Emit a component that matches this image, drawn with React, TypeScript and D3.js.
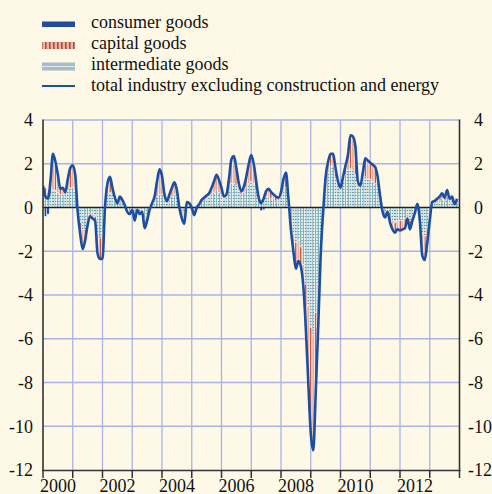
import React from "react";
import * as d3 from "d3";

// Monthly data, Jan 2000 – Dec 2013 (percentage points)
const total = [
  1.0, 0.5, 0.4, 1.2, 2.45, 2.1, 1.5, 0.85, 0.9, 0.7, 1.3, 1.8,
  1.93, 1.5, -0.2, -1.2, -1.9, -1.5, -0.8, -0.4, -0.5, -0.6, -2.1, -2.35,
  -2.35, 0.0, 1.1, 1.4, 0.9, 0.45, 0.2, 0.5, 0.35, 0.1, -0.2, -0.3,
  -0.1, -0.6, -0.1, -0.3, -0.2, -0.95, -0.6, -0.1, 0.2, 0.5, 1.2, 1.75,
  1.45, 0.6, 0.3, 0.6, 0.9, 1.15, 0.8, 0.0, -0.5, -0.75, 0.25, 0.2,
  0.0, -0.35, 0.0, 0.15, 0.35, 0.45, 0.55, 0.65, 0.9, 1.2, 1.5, 1.25,
  0.9, 0.5, 0.6, 1.3, 2.2, 2.35, 1.8, 1.1, 0.75, 0.95, 1.4, 2.0,
  2.4, 2.0, 1.2, 0.45, 0.2, 0.4, 0.75, 0.85, 0.7, 0.6, 0.5, 0.45,
  0.7, 1.3, 1.6, 0.4, -1.0, -2.0, -2.8, -2.45, -2.7, -3.6, -5.5, -8.0,
  -10.3, -11.1, -8.5, -5.5, -2.2, -0.2, 1.4, 2.1, 2.45, 2.45, 1.8, 1.2,
  0.9, 1.4, 1.9, 2.4, 3.3, 3.25, 2.8, 1.2, 1.0, 1.6, 2.25, 2.15,
  2.05, 1.95, 1.85, 1.4, 0.5, -0.2, -0.45, -0.2, -0.7, -1.0, -1.15, -1.0,
  -1.05, -1.0, -0.95, -0.5, -1.0, -0.6, -0.25, 0.17, -0.6, -2.2, -2.4, -1.6,
  -0.6, 0.25, 0.3, 0.4, 0.5, 0.65, 0.45, 0.8, 0.4, 0.5, 0.15, 0.4,
];

const intermediate = [
  0.6, 0.5, 0.4, 0.6, 0.8, 0.8, 0.7, 0.6, 0.6, 0.6, 0.8, 0.9,
  0.9, 0.8, -0.2, -0.7, -1.0, -1.0, -0.6, -0.3, -0.3, -0.4, -1.2, -1.4,
  -1.2, 0.0, 0.6, 0.7, 0.6, 0.3, 0.2, 0.3, 0.3, 0.1, -0.1, -0.2,
  -0.1, -0.3, -0.1, -0.2, -0.1, -0.5, -0.4, -0.1, 0.2, 0.3, 0.5, 0.6,
  0.6, 0.4, 0.2, 0.4, 0.5, 0.6, 0.5, 0.1, -0.2, -0.3, 0.2, 0.2,
  0.1, -0.1, 0.1, 0.2, 0.3, 0.4, 0.4, 0.5, 0.6, 0.7, 0.8, 0.7,
  0.6, 0.4, 0.5, 0.8, 1.1, 1.1, 1.0, 0.8, 0.6, 0.7, 0.9, 1.1,
  1.2, 1.1, 0.8, 0.4, 0.2, 0.3, 0.5, 0.5, 0.4, 0.4, 0.3, 0.3,
  0.5, 0.8, 0.9, 0.3, -0.6, -1.2, -1.6, -1.5, -1.8, -2.6, -3.5, -4.5,
  -5.5, -5.8, -4.8, -3.5, -1.5, -0.2, 1.0, 1.6, 1.9, 1.9, 1.4, 1.0,
  0.85, 1.2, 1.5, 1.7, 1.8, 1.7, 1.5, 0.9, 0.9, 1.2, 1.4, 1.3,
  1.3, 1.2, 1.1, 0.9, 0.4, -0.1, -0.3, -0.1, -0.5, -0.6, -0.7, -0.6,
  -0.6, -0.6, -0.5, -0.3, -0.6, -0.4, -0.1, 0.1, -0.4, -1.2, -1.3, -0.9,
  -0.4, 0.2, 0.2, 0.3, 0.3, 0.4, 0.3, 0.5, 0.3, 0.3, 0.1, 0.3,
];

const capital = [
  0.4, 0.4, 0.3, 0.6, 1.65, 1.3, 0.8, 0.25, 0.3, 0.1, 0.5, 0.9,
  1.03, 0.7, 0.0, -0.5, -0.9, -0.5, -0.2, -0.1, -0.2, -0.2, -0.9, -0.95,
  -1.15, 0.0, 0.5, 0.7, 0.3, 0.15, 0.0, 0.2, 0.05, 0.0, -0.1, -0.1,
  0.0, -0.3, 0.0, -0.1, -0.1, -0.45, -0.2, 0.0, 0.0, 0.2, 0.7, 1.15,
  0.85, 0.2, 0.1, 0.2, 0.4, 0.55, 0.3, -0.1, -0.3, -0.45, 0.05, 0.0,
  0.0, -0.1, -0.1, -0.05, 0.05, 0.05, 0.15, 0.15, 0.3, 0.5, 0.7, 0.55,
  0.3, 0.1, 0.1, 0.5, 1.1, 1.25, 0.8, 0.3, 0.15, 0.25, 0.5, 0.9,
  1.2, 0.9, 0.4, 0.05, 0.15, 0.2, 0.25, 0.35, 0.3, 0.2, 0.2, 0.15,
  0.2, 0.5, 0.7, 0.1, -0.4, -0.8, -1.2, -0.95, -0.9, -1.0, -2.0, -3.5,
  -4.8, -5.3, -3.7, -2.0, -0.7, 0.0, 0.4, 0.5, 0.55, 0.55, 0.4, 0.2,
  0.05, 0.2, 0.4, 0.7, 1.5, 1.55, 1.3, 0.3, 0.1, 0.4, 0.85, 0.85,
  0.75, 0.75, 0.75, 0.5, 0.1, -0.1, -0.15, -0.1, -0.2, -0.4, -0.45, -0.4,
  -0.45, -0.4, -0.45, -0.2, -0.4, -0.2, -0.15, 0.07, -0.2, -1.0, -1.1, -0.7,
  -0.2, 0.05, 0.1, 0.1, 0.2, 0.25, 0.15, 0.3, 0.1, 0.2, 0.05, 0.1,
];

const consumerNonZero: [number, number][] = [
  [1, -0.4], [2, -0.3], [60, -0.1], [61, -0.15], [88, -0.15], [89, -0.1],
];

const yTicks = [4, 2, 0, -2, -4, -6, -8, -10, -12];
const yearTicks = d3.range(2000, 2015);
const yearLabels = [2000, 2002, 2004, 2006, 2008, 2010, 2012];

const legendItems = [
  "consumer goods",
  "capital goods",
  "intermediate goods",
  "total industry excluding construction and energy",
];

const W = 492;
const H = 494;
const BG = "#fef9e7";
const GRID = "#aab3e3";
const LINE = "#1b4fa3";
const FONT = "'Liberation Serif', 'Times New Roman', serif";

export default function App() {
  const x = d3.scaleLinear().domain([2000, 2014]).range([43, 459.5]);
  const y = d3.scaleLinear().domain([-12, 4]).range([470, 120]);
  const step = x(2000 + 1 / 12) - x(2000);

  const consumer = total.map(() => 0);
  consumerNonZero.forEach(([i, v]) => (consumer[i] = v));

  const rows = total.map((t, i) => ({
    t: 2000 + i / 12,
    intermediate: intermediate[i],
    capital: capital[i],
    consumer: consumer[i],
    total: t,
  }));

  const keys = ["intermediate", "capital", "consumer"];
  const series = d3
    .stack<any>()
    .keys(keys)
    .offset(d3.stackOffsetDiverging)(rows);

  const fills: Record<string, string> = {
    intermediate: "url(#patInter)",
    capital: "url(#patCap)",
    consumer: "#1f4e9e",
  };

  const line = d3
    .line<any>()
    .x((d) => x(d.t))
    .y((d) => y(d.total))
    .curve(d3.curveMonotoneX);

  return (
    <svg
      width={W}
      height={H}
      style={{ position: "absolute", left: 0, top: 0, fontFamily: FONT }}
    >
      <defs>
        <pattern id="patInter" width="3" height="3" patternUnits="userSpaceOnUse">
          <rect width="3" height="3" fill="#cfe1e4" />
          <rect width="3" height="1" fill="#5f98a3" />
          <rect width="1" height="3" fill="#86b1b9" />
        </pattern>
        <pattern id="patCap" width="5" height="4" patternUnits="userSpaceOnUse">
          <rect width="5" height="4" fill="#e9b09c" />
          <rect width="1.2" height="4" fill="#c85a45" />
        </pattern>
        <pattern id="legCap" width="4" height="4" patternUnits="userSpaceOnUse">
          <rect width="4" height="4" fill="#e8b6a6" />
          <rect x="1" width="1.6" height="4" fill="#b8483a" />
        </pattern>
        <clipPath id="plotClip">
          <rect x={43} y={110} width={416.5} height={360} />
        </clipPath>
      </defs>
      <rect width={W} height={H} fill={BG} />

      {/* legend */}
      <g>
        <rect x={42} y={21.5} width={33} height={5.5} fill="#1f4e9e" />
        <rect x={42} y={42} width={33} height={7} fill="url(#legCap)" />
        <rect x={42} y={62.5} width={33} height={8} fill="#a6bcc8" />
        <line x1={42} x2={75} y1={66.5} y2={66.5} stroke="#e3ecef" strokeWidth={1.2} />
        <line x1={42} x2={75} y1={86} y2={86} stroke={LINE} strokeWidth={2.2} />
        {legendItems.map((t, i) => (
          <text key={t} x={91} y={28 + i * 21} fontSize={18} fill="#111">
            {t}
          </text>
        ))}
      </g>

      {/* grid */}
      {yTicks
        .filter((v) => v !== 0 && v !== -12)
        .map((v) => (
          <line key={"h" + v} x1={43} x2={459.5} y1={y(v)} y2={y(v)} stroke={GRID} strokeWidth={1.3} />
        ))}
      {yearTicks.slice(1, -1).map((yr) => (
        <line key={"v" + yr} x1={x(yr)} x2={x(yr)} y1={120} y2={470} stroke={GRID} strokeWidth={1.3} />
      ))}

      {/* bars */}
      <g clipPath="url(#plotClip)">
        {series.map((s) => (
          <g key={s.key} fill={fills[s.key]}>
            {s.map((d, i) => {
              const y0 = y(d[0]);
              const y1 = y(d[1]);
              const h = Math.abs(y1 - y0);
              if (h < 0.01) return null;
              return (
                <rect
                  key={i}
                  x={x(rows[i].t) - step / 2}
                  width={step}
                  y={Math.min(y0, y1)}
                  height={h}
                  stroke="#ffffff"
                  strokeWidth={0.45}
                />
              );
            })}
          </g>
        ))}
      </g>

      {/* zero line */}
      <line x1={43} x2={459.5} y1={y(0)} y2={y(0)} stroke="#222" strokeWidth={1.3} />

      {/* total line */}
      <path
        d={line(rows) || ""}
        fill="none"
        stroke={LINE}
        strokeWidth={2.6}
        strokeLinejoin="round"
        clipPath="url(#plotClip)"
      />

      {/* axes */}
      <line x1={43} x2={43} y1={119.5} y2={471} stroke="#333" strokeWidth={1.6} />
      <line x1={459.5} x2={459.5} y1={119.5} y2={471} stroke="#333" strokeWidth={1.6} />
      <line x1={42.2} x2={460.3} y1={470.5} y2={470.5} stroke="#333" strokeWidth={1.6} />
      {yearTicks.map((yr) => (
        <line key={"t" + yr} x1={x(yr)} x2={x(yr)} y1={470} y2={478} stroke="#333" strokeWidth={1.5} />
      ))}

      {/* y labels */}
      {yTicks.map((v) => (
        <text key={"l" + v} x={33} y={y(v)} dy="0.35em" textAnchor="end" fontSize={18} fill="#111">
          {v}
        </text>
      ))}
      {yTicks.map((v) => (
        <text key={"r" + v} x={v >= 0 ? 474 : 468} y={y(v)} dy="0.35em" textAnchor="start" fontSize={18} fill="#111">
          {v}
        </text>
      ))}

      {/* x labels */}
      {yearLabels.map((yr) => (
        <text key={"x" + yr} x={x(yr + 0.5)} y={492} textAnchor="middle" fontSize={18} fill="#111">
          {yr}
        </text>
      ))}
    </svg>
  );
}
